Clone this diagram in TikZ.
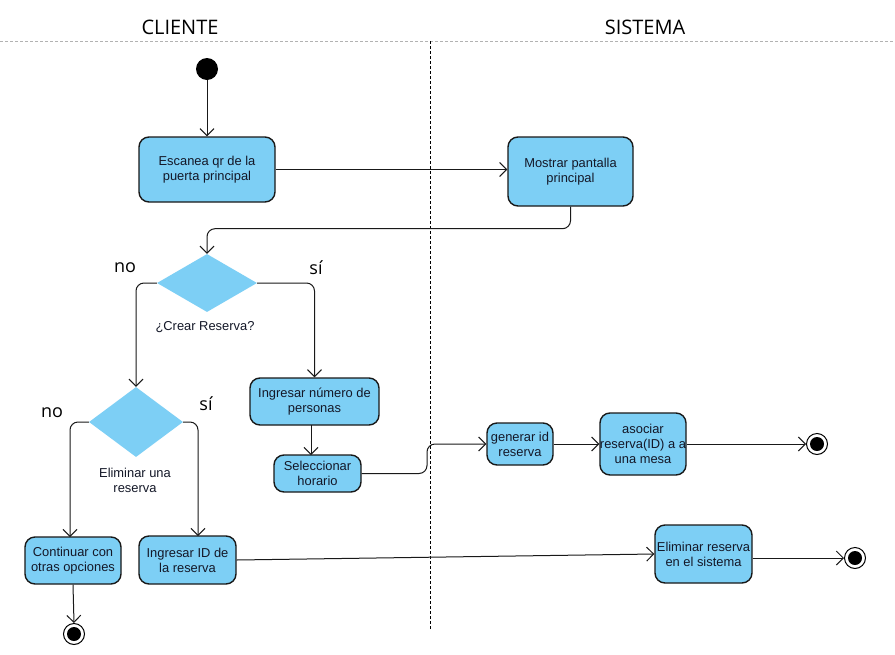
\documentclass[tikz,border=0pt]{standalone}
\usepackage{fontspec}
\setmainfont{Liberation Sans}
\newfontfamily\hdrfont{Open Sans}
\usetikzlibrary{arrows.meta,shapes.geometric}
\definecolor{boxblue}{RGB}{125,207,245}
\definecolor{edgec}{RGB}{25,25,25}
\definecolor{txtc}{RGB}{20,24,40}
\begin{document}
\begin{tikzpicture}[x=1pt,y=-1pt,
  act/.style={draw=edgec,line width=1.4pt,fill=boxblue,rounded corners=10pt,align=center,
    font=\fontsize{12.9}{15.2}\selectfont,inner sep=0pt,text=txtc},
  dec/.style={diamond,draw=none,fill=boxblue,inner sep=0pt},
  arr/.style={-{Straight Barb[length=7pt,width=14pt,line width=1pt]},line width=1pt,draw=edgec},
  lbl/.style={font=\fontsize{12.9}{15.2}\selectfont,align=center,text=txtc},
  yn/.style={font=\hdrfont\fontsize{18}{20}\selectfont},
  startnode/.style={circle,fill=black,minimum size=22pt,inner sep=0pt},
  endouter/.style={circle,draw=black,line width=1pt,fill=white,minimum size=21pt,inner sep=0pt}
]
\useasboundingbox (0,0) rectangle (895,654);
\fill[white] (0,0) rectangle (895,654);

% headers and swimlane lines
\node[font=\hdrfont\fontsize{20}{22}\selectfont] (hc) at (180,27) {CLIENTE};
\node[font=\hdrfont\fontsize{20}{22}\selectfont] (hs) at (645,27) {SISTEMA};
\draw[black!30,line width=0.8pt,dash pattern=on 3pt off 2pt] (0,41) -- (895,41);
\draw[black,line width=0.9pt,dash pattern=on 3pt off 2pt] (430,41) -- (430,630);

% nodes
\node[startnode] (start) at (207,69) {};
\node[act,minimum width=136pt,minimum height=65pt] (scan) at (207,169.5) {Escanea qr de la\\puerta principal};
\node[act,minimum width=125pt,minimum height=69pt] (most) at (570.5,171.5) {Mostrar pantalla\\principal};
\node[dec,minimum width=100pt,minimum height=58pt] (d1) at (207,283) {};
\node[lbl] (q1) at (205,327) {¿Crear Reserva?};
\node[yn] (no1) at (125,268) {no};
\node[yn] (si1) at (316,268) {sí};
\node[act,minimum width=129pt,minimum height=47pt] (num) at (314.5,401.5) {Ingresar número de\\personas};
\node[act,minimum width=87pt,minimum height=37pt] (sel) at (317.5,473.5) {Seleccionar\\horario};
\node[act,minimum width=66pt,minimum height=42pt] (gen) at (520,444) {generar id\\reserva};
\node[act,minimum width=86pt,minimum height=62pt] (aso) at (643,444) {asociar\\reserva(ID) a a\\una mesa};
\node[endouter] (end1) at (817,444) {};
\fill[black] (end1) circle (7pt);
\node[dec,minimum width=94pt,minimum height=70pt] (d2) at (136,422) {};
\node[lbl] (q2) at (135,480) {Eliminar una\\reserva};
\node[yn] (no2) at (52,413) {no};
\node[yn] (si2) at (206,404) {sí};
\node[act,minimum width=96pt,minimum height=47pt] (cont) at (73,560.5) {Continuar con\\otras opciones};
\node[act,minimum width=97pt,minimum height=48pt] (iid) at (187.5,560) {Ingresar ID de\\la reserva};
\node[act,minimum width=97pt,minimum height=58pt] (elim) at (703.5,554) {Eliminar reserva\\en el sistema};
\node[endouter] (end2) at (855,558) {};
\fill[black] (end2) circle (7pt);
\node[endouter] (end3) at (74,634) {};
\fill[black] (end3) circle (7pt);
\coordinate (iidin) at (198,536);
\coordinate (contin) at (70,537);
\coordinate (numout) at (311,425);
\coordinate (selin) at (311,455);

% connectors
\draw[arr] (start) -- (scan.north);
\draw[arr] (scan.east) -- (most.west |- scan.east);
\draw[arr,rounded corners=8pt] (most.south) -- ++(0,22) -| (d1.north);
\draw[arr,rounded corners=8pt] (d1.west) -| (d2.north);
\draw[arr,rounded corners=8pt] (d1.east) -| (num.north);
\draw[arr] (numout) -- (selin);
\draw[arr,rounded corners=8pt] (sel.east) -- (427,473.5) -- (427,444) -- (gen.west);
\draw[arr] (gen.east) -- (aso.west);
\draw[arr] (aso.east) -- (end1.west);
\draw[arr,rounded corners=8pt] (d2.west) -| (contin);
\draw[arr,rounded corners=8pt] (d2.east) -| (iidin);
\draw[arr] (cont.south) -- (end3.north);
\draw[arr] (iid.east) -- (elim.west);
\draw[arr] (elim.east |- end2.west) -- (end2.west);
\end{tikzpicture}
\end{document}
